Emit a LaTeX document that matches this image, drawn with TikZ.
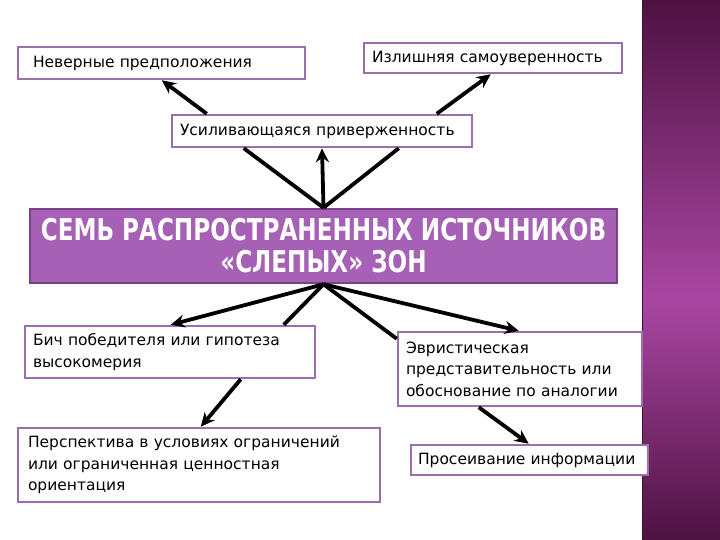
\documentclass[tikz,border=0pt]{standalone}
\usepackage{fontspec}
\setmainfont{DejaVu Sans}
\newfontfamily\titlefont[FakeStretch=0.77]{DejaVu Sans}
\usepackage{xcolor}
\usepackage{tikz}
\usetikzlibrary{arrows.meta, calc}

\definecolor{boxline}{RGB}{155,112,170}
\definecolor{headfill}{RGB}{166,96,181}
\definecolor{headline}{RGB}{122,64,138}
\definecolor{banddark}{RGB}{78,18,66}
\definecolor{bandmid}{RGB}{170,70,162}

\begin{document}
\begin{tikzpicture}[x=1pt, y=-1pt, >={Stealth[length=14pt,width=13pt]},
    srcbox/.style={draw=boxline, line width=2.5pt, fill=white, rectangle,
        inner xsep=8pt, inner ysep=0pt, align=left,
        font=\fontsize{15.5}{21.5}\selectfont},
    headbox/.style={draw=headline, line width=2.5pt, fill=headfill, rectangle,
        text=white, align=center, inner sep=0pt,
        font=\titlefont\bfseries\fontsize{30}{32}\selectfont},
    arr/.style={->, line width=3.8pt, black},
    ln/.style={line width=3.8pt, black}]
    % Page and side band
    \useasboundingbox (0,0) rectangle (720,540);
    \fill[white] (0,0) rectangle (720,540);
    \shade[top color=banddark, bottom color=bandmid] (642,0) rectangle (720,300);
    \shade[top color=bandmid, bottom color=banddark] (642,300) rectangle (720,540);
    \draw[banddark!80!black, line width=1.5pt] (642.5,0) -- (642.5,540);

    % Boxes
    \node[srcbox, inner xsep=15pt, text width=257pt, minimum height=32pt] (wrong) at (161.5,63) {Неверные предположения};
    \node[srcbox, text width=242pt, minimum height=30pt] (over) at (493,58) {Излишняя самоуверенность};
    \node[srcbox, text width=284pt, minimum height=32pt] (commit) at (322,131) {Усиливающаяся приверженность};
    \node[headbox, minimum width=587pt, minimum height=74pt] (head) at (323.5,246) {СЕМЬ РАСПРОСТРАНЕННЫХ ИСТОЧНИКОВ\\«СЛЕПЫХ» ЗОН};
    \node[srcbox, text width=274pt, minimum height=52pt] (curse) at (170,352) {Бич победителя или гипотеза\\высокомерия};
    \node[srcbox, inner xsep=10pt, text width=342pt, minimum height=74pt] (persp) at (199,465) {Перспектива в условиях ограничений\\или ограниченная ценностная\\ориентация};
    \node[srcbox, text width=228pt, minimum height=74pt] (heur) at (520,369) {Эвристическая\\представительность или\\обоснование по аналогии};
    \node[srcbox, inner xsep=7pt, text width=223pt, minimum height=30pt] (sift) at (529.5,460) {Просеивание информации};

    % Connectors above the title
    \draw[arr] ([xshift=36pt]commit.north west) -- ([xshift=145pt]wrong.south west);
    \draw[arr] ([xshift=266pt]commit.north west) -- ([xshift=128pt]over.south west);
    \draw[ln] (head.north) -- ([xshift=73pt]commit.south west);
    \draw[ln] (head.north) -- ([xshift=228pt]commit.south west);
    \draw[arr] (head.north) -- (commit.south);

    % Connectors below the title
    \draw[arr] (head.south) -- ([xshift=147pt]curse.north west);
    \draw[ln] (head.south) -- ([xshift=260pt]curse.north west);
    \draw[ln] (head.south) -- ([yshift=-8pt]heur.north west);
    \draw[arr] (head.south) -- ([xshift=122pt]heur.north west);
    \draw[arr] ([xshift=217pt]curse.south west) -- ([xshift=184pt]persp.north west);
    \draw[arr] ([xshift=82pt]heur.south west) -- ([xshift=119pt]sift.north west);
\end{tikzpicture}
\end{document}
